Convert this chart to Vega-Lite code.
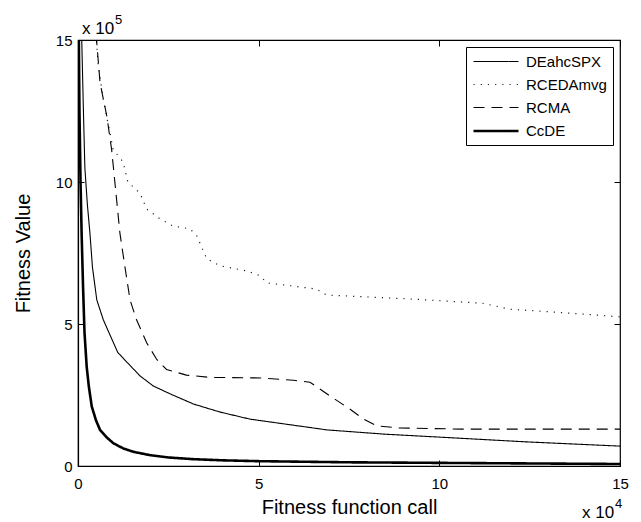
{
  "$schema": "https://vega.github.io/schema/vega-lite/v6.json",
  "autosize": {"type": "none"},
  "padding": {"left": 78, "top": 40, "right": 21, "bottom": 56},
  "width": 542,
  "height": 426,
  "background": "white",
  "config": {
    "font": "Liberation Sans",
    "view": {"stroke": "black", "strokeWidth": 1.2},
    "axis": {
      "grid": false,
      "labelFont": "Liberation Sans",
      "labelFontSize": 15,
      "labelColor": "black",
      "titleFont": "Liberation Sans",
      "titleFontSize": 20,
      "titleFontWeight": "normal",
      "titleColor": "black",
      "domainColor": "black",
      "domainWidth": 1.2,
      "tickColor": "black",
      "tickSize": -6
    },
    "legend": {
      "labelFont": "Liberation Sans",
      "labelFontSize": 15,
      "labelColor": "black"
    }
  },
  "resolve": {"axis": {"x": "independent", "y": "independent"}},
  "layer": [
    {
      "data": {
        "values": [
          {"method": "DEahcSPX", "calls": 1000, "fitness": 1520000},
          {"method": "DEahcSPX", "calls": 1500, "fitness": 1250000},
          {"method": "DEahcSPX", "calls": 1900, "fitness": 1050000},
          {"method": "DEahcSPX", "calls": 2600, "fitness": 920000},
          {"method": "DEahcSPX", "calls": 3300, "fitness": 820000},
          {"method": "DEahcSPX", "calls": 4000, "fitness": 700000},
          {"method": "DEahcSPX", "calls": 5200, "fitness": 585000},
          {"method": "DEahcSPX", "calls": 7000, "fitness": 515000},
          {"method": "DEahcSPX", "calls": 8900, "fitness": 460000},
          {"method": "DEahcSPX", "calls": 11000, "fitness": 400000},
          {"method": "DEahcSPX", "calls": 13500, "fitness": 366000},
          {"method": "DEahcSPX", "calls": 17200, "fitness": 317000},
          {"method": "DEahcSPX", "calls": 20800, "fitness": 282000},
          {"method": "DEahcSPX", "calls": 25500, "fitness": 254000},
          {"method": "DEahcSPX", "calls": 32000, "fitness": 218000},
          {"method": "DEahcSPX", "calls": 39300, "fitness": 190000},
          {"method": "DEahcSPX", "calls": 47600, "fitness": 165000},
          {"method": "DEahcSPX", "calls": 50400, "fitness": 160000},
          {"method": "DEahcSPX", "calls": 69000, "fitness": 127000},
          {"method": "DEahcSPX", "calls": 85000, "fitness": 112000},
          {"method": "DEahcSPX", "calls": 99600, "fitness": 102000},
          {"method": "DEahcSPX", "calls": 124000, "fitness": 85000},
          {"method": "DEahcSPX", "calls": 150000, "fitness": 70000},

          {"method": "RCEDAmvg", "calls": 5000, "fitness": 1520000},
          {"method": "RCEDAmvg", "calls": 5600, "fitness": 1410000},
          {"method": "RCEDAmvg", "calls": 7000, "fitness": 1290000},
          {"method": "RCEDAmvg", "calls": 8900, "fitness": 1170000},
          {"method": "RCEDAmvg", "calls": 9700, "fitness": 1115000},
          {"method": "RCEDAmvg", "calls": 12500, "fitness": 1070000},
          {"method": "RCEDAmvg", "calls": 13800, "fitness": 1000000},
          {"method": "RCEDAmvg", "calls": 17200, "fitness": 960000},
          {"method": "RCEDAmvg", "calls": 19000, "fitness": 905000},
          {"method": "RCEDAmvg", "calls": 22700, "fitness": 870000},
          {"method": "RCEDAmvg", "calls": 26300, "fitness": 845000},
          {"method": "RCEDAmvg", "calls": 31000, "fitness": 835000},
          {"method": "RCEDAmvg", "calls": 32900, "fitness": 810000},
          {"method": "RCEDAmvg", "calls": 35600, "fitness": 730000},
          {"method": "RCEDAmvg", "calls": 39300, "fitness": 705000},
          {"method": "RCEDAmvg", "calls": 46700, "fitness": 687000},
          {"method": "RCEDAmvg", "calls": 50400, "fitness": 670000},
          {"method": "RCEDAmvg", "calls": 52200, "fitness": 645000},
          {"method": "RCEDAmvg", "calls": 66000, "fitness": 623000},
          {"method": "RCEDAmvg", "calls": 68800, "fitness": 602000},
          {"method": "RCEDAmvg", "calls": 93700, "fitness": 587000},
          {"method": "RCEDAmvg", "calls": 112000, "fitness": 573000},
          {"method": "RCEDAmvg", "calls": 119600, "fitness": 552000},
          {"method": "RCEDAmvg", "calls": 139800, "fitness": 535000},
          {"method": "RCEDAmvg", "calls": 150000, "fitness": 525000},

          {"method": "RCMA", "calls": 5000, "fitness": 1520000},
          {"method": "RCMA", "calls": 6100, "fitness": 1350000},
          {"method": "RCMA", "calls": 8000, "fitness": 1230000},
          {"method": "RCMA", "calls": 9300, "fitness": 1115000},
          {"method": "RCMA", "calls": 10200, "fitness": 1000000},
          {"method": "RCMA", "calls": 11600, "fitness": 820000},
          {"method": "RCMA", "calls": 13000, "fitness": 700000},
          {"method": "RCMA", "calls": 14400, "fitness": 585000},
          {"method": "RCMA", "calls": 16200, "fitness": 515000},
          {"method": "RCMA", "calls": 19000, "fitness": 434000},
          {"method": "RCMA", "calls": 21800, "fitness": 375000},
          {"method": "RCMA", "calls": 24500, "fitness": 340000},
          {"method": "RCMA", "calls": 30000, "fitness": 320000},
          {"method": "RCMA", "calls": 36500, "fitness": 312000},
          {"method": "RCMA", "calls": 50400, "fitness": 310000},
          {"method": "RCMA", "calls": 59600, "fitness": 302000},
          {"method": "RCMA", "calls": 64200, "fitness": 295000},
          {"method": "RCMA", "calls": 69700, "fitness": 247000},
          {"method": "RCMA", "calls": 75300, "fitness": 200000},
          {"method": "RCMA", "calls": 79000, "fitness": 165000},
          {"method": "RCMA", "calls": 82700, "fitness": 141000},
          {"method": "RCMA", "calls": 89000, "fitness": 134000},
          {"method": "RCMA", "calls": 106000, "fitness": 130000},
          {"method": "RCMA", "calls": 150000, "fitness": 130000},

          {"method": "CcDE", "calls": 200, "fitness": 1550000},
          {"method": "CcDE", "calls": 400, "fitness": 1250000},
          {"method": "CcDE", "calls": 700, "fitness": 1000000},
          {"method": "CcDE", "calls": 1000, "fitness": 820000},
          {"method": "CcDE", "calls": 1400, "fitness": 630000},
          {"method": "CcDE", "calls": 1800, "fitness": 470000},
          {"method": "CcDE", "calls": 2400, "fitness": 350000},
          {"method": "CcDE", "calls": 3000, "fitness": 280000},
          {"method": "CcDE", "calls": 3800, "fitness": 210000},
          {"method": "CcDE", "calls": 5000, "fitness": 160000},
          {"method": "CcDE", "calls": 6100, "fitness": 127000},
          {"method": "CcDE", "calls": 8000, "fitness": 100000},
          {"method": "CcDE", "calls": 9800, "fitness": 80000},
          {"method": "CcDE", "calls": 12500, "fitness": 62000},
          {"method": "CcDE", "calls": 15300, "fitness": 50000},
          {"method": "CcDE", "calls": 20000, "fitness": 38000},
          {"method": "CcDE", "calls": 25000, "fitness": 30000},
          {"method": "CcDE", "calls": 32000, "fitness": 24000},
          {"method": "CcDE", "calls": 40000, "fitness": 20000},
          {"method": "CcDE", "calls": 50000, "fitness": 17000},
          {"method": "CcDE", "calls": 75000, "fitness": 13000},
          {"method": "CcDE", "calls": 100000, "fitness": 11000},
          {"method": "CcDE", "calls": 125000, "fitness": 9000},
          {"method": "CcDE", "calls": 150000, "fitness": 7000}
        ]
      },
      "mark": {"type": "line", "clip": true},
      "encoding": {
        "x": {
          "field": "calls",
          "type": "quantitative",
          "scale": {"domain": [0, 150000], "nice": false},
          "axis": {
            "values": [0, 50000, 100000, 150000],
            "labelExpr": "datum.value / 10000",
            "title": "Fitness function call",
            "labelPadding": 16,
            "titlePadding": 6,
            "labelFlush": false
          }
        },
        "y": {
          "field": "fitness",
          "type": "quantitative",
          "scale": {"domain": [0, 1500000], "nice": false},
          "axis": {
            "values": [0, 500000, 1000000, 1500000],
            "labelExpr": "datum.value / 100000",
            "title": "Fitness Value",
            "labelPadding": 12,
            "titlePadding": 22
          }
        },
        "color": {
          "field": "method",
          "type": "nominal",
          "scale": {
            "domain": ["DEahcSPX", "RCEDAmvg", "RCMA", "CcDE"],
            "range": ["black", "#222222", "black", "black"]
          },
          "legend": {
            "title": null,
            "orient": "top-right",
            "offset": 7,
            "strokeColor": "black",
            "fillColor": "white",
            "padding": 6,
            "symbolType": "M-1,0H5",
            "symbolSize": 225,
            "symbolFillColor": "transparent",
            "labelOffset": 36,
            "rowPadding": 6
          }
        },
        "strokeDash": {
          "field": "method",
          "type": "nominal",
          "scale": {
            "domain": ["DEahcSPX", "RCEDAmvg", "RCMA", "CcDE"],
            "range": [[1, 0], [1.2, 6], [11, 7], [1, 0]]
          },
          "legend": {"title": null}
        },
        "strokeWidth": {
          "field": "method",
          "type": "ordinal",
          "scale": {
            "type": "ordinal",
            "domain": ["DEahcSPX", "RCEDAmvg", "RCMA", "CcDE"],
            "range": [1.1, 1.2, 1.1, 2.6]
          },
          "legend": {"title": null}
        }
      }
    },
    {
      "data": {"values": [{"calls": 0, "fitness": 0}]},
      "mark": {"type": "point", "opacity": 0},
      "encoding": {
        "x": {
          "field": "calls",
          "type": "quantitative",
          "axis": {
            "orient": "top",
            "values": [0, 50000, 100000, 150000],
            "labels": false,
            "domain": false,
            "title": null
          }
        },
        "y": {
          "field": "fitness",
          "type": "quantitative",
          "axis": {
            "orient": "right",
            "values": [0, 500000, 1000000, 1500000],
            "labels": false,
            "domain": false,
            "title": null
          }
        }
      }
    },
    {
      "data": {"values": [{"t": "x 10"}]},
      "mark": {"type": "text", "align": "left", "baseline": "alphabetic", "dx": 4, "dy": -6, "fontSize": 17, "font": "Liberation Sans", "color": "black"},
      "encoding": {
        "x": {"datum": 0, "type": "quantitative", "axis": null},
        "y": {"datum": 1500000, "type": "quantitative", "axis": null},
        "text": {"field": "t"}
      }
    },
    {
      "data": {"values": [{"t": "5"}]},
      "mark": {"type": "text", "align": "left", "baseline": "alphabetic", "dx": 37, "dy": -16, "fontSize": 13, "font": "Liberation Sans", "color": "black"},
      "encoding": {
        "x": {"datum": 0, "type": "quantitative", "axis": null},
        "y": {"datum": 1500000, "type": "quantitative", "axis": null},
        "text": {"field": "t"}
      }
    },
    {
      "data": {"values": [{"t": "x 10"}]},
      "mark": {"type": "text", "align": "left", "baseline": "alphabetic", "dx": -38, "dy": 52, "fontSize": 17, "font": "Liberation Sans", "color": "black"},
      "encoding": {
        "x": {"datum": 150000, "type": "quantitative", "axis": null},
        "y": {"datum": 0, "type": "quantitative", "axis": null},
        "text": {"field": "t"}
      }
    },
    {
      "data": {"values": [{"t": "4"}]},
      "mark": {"type": "text", "align": "left", "baseline": "alphabetic", "dx": -5, "dy": 42, "fontSize": 13, "font": "Liberation Sans", "color": "black"},
      "encoding": {
        "x": {"datum": 150000, "type": "quantitative", "axis": null},
        "y": {"datum": 0, "type": "quantitative", "axis": null},
        "text": {"field": "t"}
      }
    }
  ]
}
